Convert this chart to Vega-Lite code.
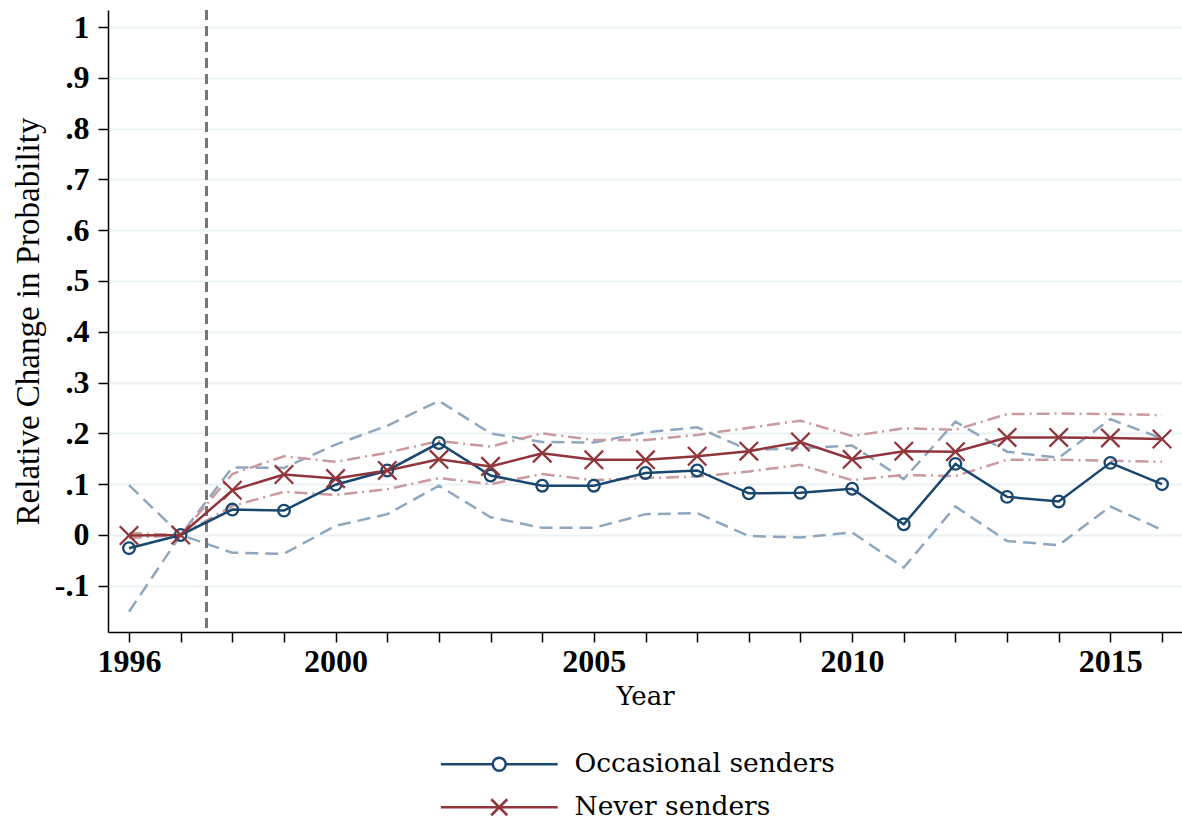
{
  "$schema": "https://vega.github.io/schema/vega-lite/v6.json",
  "autosize": {"type": "none"},
  "padding": {"left": 108, "top": 10, "right": 0, "bottom": 193},
  "width": 1074,
  "height": 622,
  "background": "white",
  "config": {
    "view": {"stroke": null},
    "axis": {"domainColor": "black", "domainWidth": 1.5, "tickColor": "black", "tickWidth": 1.5, "tickSize": 10, "labelColor": "black", "titleColor": "black"},
    "legend": {"padding": 0}
  },
  "data": {
    "values": [
      {"year": 1996, "series": "Occasional senders", "est": -0.026, "lo": -0.151, "hi": 0.098},
      {"year": 1997, "series": "Occasional senders", "est": 0, "lo": 0, "hi": 0},
      {"year": 1998, "series": "Occasional senders", "est": 0.05, "lo": -0.035, "hi": 0.133},
      {"year": 1999, "series": "Occasional senders", "est": 0.048, "lo": -0.037, "hi": 0.132},
      {"year": 2000, "series": "Occasional senders", "est": 0.099, "lo": 0.018, "hi": 0.178},
      {"year": 2001, "series": "Occasional senders", "est": 0.127, "lo": 0.041, "hi": 0.215},
      {"year": 2002, "series": "Occasional senders", "est": 0.181, "lo": 0.097, "hi": 0.264},
      {"year": 2003, "series": "Occasional senders", "est": 0.117, "lo": 0.035, "hi": 0.2},
      {"year": 2004, "series": "Occasional senders", "est": 0.097, "lo": 0.014, "hi": 0.183},
      {"year": 2005, "series": "Occasional senders", "est": 0.097, "lo": 0.014, "hi": 0.182},
      {"year": 2006, "series": "Occasional senders", "est": 0.122, "lo": 0.041, "hi": 0.202},
      {"year": 2007, "series": "Occasional senders", "est": 0.127, "lo": 0.043, "hi": 0.212},
      {"year": 2008, "series": "Occasional senders", "est": 0.082, "lo": -0.002, "hi": 0.167},
      {"year": 2009, "series": "Occasional senders", "est": 0.083, "lo": -0.005, "hi": 0.171},
      {"year": 2010, "series": "Occasional senders", "est": 0.091, "lo": 0.005, "hi": 0.176},
      {"year": 2011, "series": "Occasional senders", "est": 0.021, "lo": -0.064, "hi": 0.11},
      {"year": 2012, "series": "Occasional senders", "est": 0.14, "lo": 0.056, "hi": 0.223},
      {"year": 2013, "series": "Occasional senders", "est": 0.075, "lo": -0.012, "hi": 0.164},
      {"year": 2014, "series": "Occasional senders", "est": 0.066, "lo": -0.02, "hi": 0.152},
      {"year": 2015, "series": "Occasional senders", "est": 0.142, "lo": 0.056, "hi": 0.228},
      {"year": 2016, "series": "Occasional senders", "est": 0.1, "lo": 0.01, "hi": 0.19},
      {"year": 1996, "series": "Never senders", "est": -0.001, "lo": -0.006, "hi": 0.004},
      {"year": 1997, "series": "Never senders", "est": 0, "lo": 0, "hi": 0},
      {"year": 1998, "series": "Never senders", "est": 0.088, "lo": 0.057, "hi": 0.12},
      {"year": 1999, "series": "Never senders", "est": 0.119, "lo": 0.085, "hi": 0.155},
      {"year": 2000, "series": "Never senders", "est": 0.111, "lo": 0.079, "hi": 0.144},
      {"year": 2001, "series": "Never senders", "est": 0.127, "lo": 0.09, "hi": 0.162},
      {"year": 2002, "series": "Never senders", "est": 0.149, "lo": 0.112, "hi": 0.185},
      {"year": 2003, "series": "Never senders", "est": 0.135, "lo": 0.1, "hi": 0.174},
      {"year": 2004, "series": "Never senders", "est": 0.161, "lo": 0.12, "hi": 0.2},
      {"year": 2005, "series": "Never senders", "est": 0.148, "lo": 0.108, "hi": 0.187},
      {"year": 2006, "series": "Never senders", "est": 0.148, "lo": 0.112, "hi": 0.187},
      {"year": 2007, "series": "Never senders", "est": 0.155, "lo": 0.115, "hi": 0.197},
      {"year": 2008, "series": "Never senders", "est": 0.165, "lo": 0.125, "hi": 0.211},
      {"year": 2009, "series": "Never senders", "est": 0.183, "lo": 0.138, "hi": 0.225},
      {"year": 2010, "series": "Never senders", "est": 0.149, "lo": 0.108, "hi": 0.195},
      {"year": 2011, "series": "Never senders", "est": 0.165, "lo": 0.118, "hi": 0.21},
      {"year": 2012, "series": "Never senders", "est": 0.164, "lo": 0.116, "hi": 0.207},
      {"year": 2013, "series": "Never senders", "est": 0.192, "lo": 0.148, "hi": 0.238},
      {"year": 2014, "series": "Never senders", "est": 0.192, "lo": 0.148, "hi": 0.239},
      {"year": 2015, "series": "Never senders", "est": 0.191, "lo": 0.146, "hi": 0.238},
      {"year": 2016, "series": "Never senders", "est": 0.189, "lo": 0.144, "hi": 0.236}
    ]
  },
  "encoding": {
    "x": {
      "field": "year", "type": "quantitative",
      "scale": {"domain": [1995.593, 2016.387], "nice": false, "zero": false},
      "axis": {
        "values": [1996,1997,1998,1999,2000,2001,2002,2003,2004,2005,2006,2007,2008,2009,2010,2011,2012,2013,2014,2015,2016],
        "labelExpr": "(datum.value == 1996 || datum.value % 5 == 0) ? '' + datum.value : ''",
        "grid": false,
        "labelFont": "Liberation Serif", "labelFontWeight": "bold", "labelFontSize": 32, "labelPadding": 4,
        "title": "Year", "titleFont": "DejaVu Serif", "titleFontWeight": "normal", "titleFontSize": 26, "titlePadding": 6
      }
    }
  },
  "layer": [
    {
      "transform": [{"filter": "datum.series == 'Occasional senders'"}, {"fold": ["lo", "hi"], "as": ["bound", "val"]}],
      "mark": {"type": "line", "color": "#8ea7bf", "strokeWidth": 2.5, "strokeDash": [13, 7]},
      "encoding": {
        "y": {
          "field": "val", "type": "quantitative",
          "scale": {"domain": [-0.191, 1.0335], "nice": false, "zero": false},
          "axis": {
            "values": [-0.1, 0, 0.1, 0.2, 0.3, 0.4, 0.5, 0.6, 0.7, 0.8, 0.9, 1],
            "labelExpr": "datum.value > 0.99 ? '1' : abs(datum.value) < 0.001 ? '0' : datum.value < 0 ? '-.' + round(abs(datum.value) * 10) : '.' + round(datum.value * 10)",
            "grid": true, "gridColor": "#eaf2f3", "gridWidth": 2,
            "labelFont": "Liberation Serif", "labelFontWeight": "bold", "labelFontSize": 32, "labelPadding": 9,
            "title": "Relative Change in Probability", "titleFont": "Liberation Serif", "titleFontWeight": "normal", "titleFontSize": 33, "titlePadding": 9
          }
        },
        "detail": {"field": "bound"}
      }
    },
    {
      "transform": [{"filter": "datum.series == 'Never senders'"}, {"fold": ["lo", "hi"], "as": ["bound", "val"]}],
      "mark": {"type": "line", "color": "#c99a9e", "strokeWidth": 2.5, "strokeDash": [13, 5, 2, 5]},
      "encoding": {
        "y": {"field": "val", "type": "quantitative"},
        "detail": {"field": "bound"}
      }
    },
    {
      "mark": {"type": "rule", "color": "#777777", "strokeWidth": 2, "strokeDash": [10, 6]},
      "encoding": {"x": {"datum": 1997.5}}
    },
    {
      "mark": {"type": "line", "strokeWidth": 2.5},
      "encoding": {
        "y": {"field": "est", "type": "quantitative"},
        "color": {
          "field": "series", "type": "nominal",
          "scale": {"domain": ["Occasional senders", "Never senders"], "range": ["#1a476f", "#90353b"]},
          "legend": {
            "title": null, "orient": "none", "direction": "vertical",
            "legendX": 378, "legendY": 741,
            "symbolSize": 256, "symbolStrokeWidth": 2.5,
            "labelFont": "DejaVu Serif", "labelFontSize": 26.5, "labelColor": "black", "labelOffset": 62, "labelLimit": 500,
            "rowPadding": 16,
            "encode": {
              "symbols": {
                "update": {
                  "shape": {"signal": "datum.value == 'Occasional senders' ? 'M-7.3,0H-0.81M0.81,0H7.3M-0.81,0A0.81,0.81 0 1,1 0.81,0A0.81,0.81 0 1,1 -0.81,0' : 'M-7.3,0H7.3M-1,-1L1,1M-1,1L1,-1'"},
                  "fill": {"value": "transparent"}
                }
              }
            }
          }
        }
      }
    },
    {
      "transform": [{"filter": "datum.series == 'Occasional senders'"}],
      "mark": {"type": "point", "shape": "circle", "filled": false, "color": "#1a476f", "size": 135, "strokeWidth": 2.3, "opacity": 1},
      "encoding": {"y": {"field": "est", "type": "quantitative"}}
    },
    {
      "transform": [{"filter": "datum.series == 'Never senders'"}],
      "mark": {"type": "point", "shape": "M-1,-1L1,1M-1,1L1,-1", "filled": false, "color": "#90353b", "size": 340, "strokeWidth": 2.3, "opacity": 1},
      "encoding": {"y": {"field": "est", "type": "quantitative"}}
    }
  ]
}
